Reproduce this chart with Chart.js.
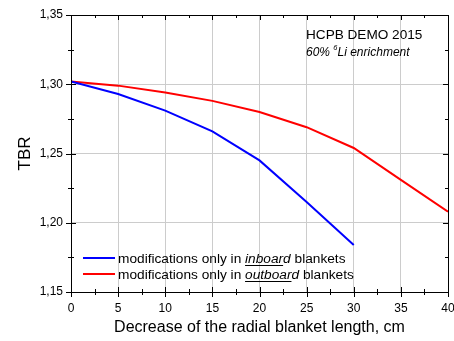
<!DOCTYPE html>
<html><head><meta charset="utf-8">
<script src="https://cdn.jsdelivr.net/npm/chart.js@4.4.1/dist/chart.umd.min.js"></script>
<style>html,body{margin:0;padding:0;background:#fff}#wrap{width:454px;height:341px}</style>
</head><body><div id="wrap"><canvas id="c" width="454" height="341"></canvas></div>
<script>
const xValues = [0, 5, 10, 15, 20, 25, 30, 35, 40];
const inboardTBR = [1.302, 1.293, 1.281, 1.266, 1.245, 1.215, 1.184];
const outboardTBR = [1.302, 1.299, 1.294, 1.288, 1.280, 1.269, 1.254, 1.231, 1.208];
const seriesNames = [["modifications only in ", "inboard", " blankets"], ["modifications only in ", "outboard", " blankets"]];
const titleText = "HCPB DEMO 2015";
const subText = ["60% ", "6", "Li enrichment"];
const FONT = "'Liberation Sans', Arial, sans-serif";

const decor = {
  id: 'decor',
  afterDraw(chart) {
    const ctx = chart.ctx, a = chart.chartArea, xs = chart.scales.x, ys = chart.scales.y;
    ctx.save();
    ctx.strokeStyle = '#000'; ctx.lineWidth = 1;
    ctx.strokeRect(Math.round(a.left) + 0.5, Math.round(a.top) + 0.5, Math.round(a.right - a.left), Math.round(a.bottom - a.top));
    ctx.beginPath();
    for (let v = 0; v <= 40; v += 2.5) {
      const x = Math.round(xs.getPixelForValue(v)) + 0.5;
      const major = v % 5 === 0;
      const L = major ? 5 : 3;
      ctx.moveTo(x, a.bottom - L); ctx.lineTo(x, a.bottom + L);
      ctx.moveTo(x, a.top); ctx.lineTo(x, a.top + L);
    }
    for (let i = 0; i <= 8; i++) {
      const v = 1.15 + i * 0.025;
      const y = Math.round(ys.getPixelForValue(v)) + 0.5;
      const major = i % 2 === 0;
      const L = major ? 5 : 3;
      ctx.moveTo(a.left - L, y); ctx.lineTo(a.left + L, y);
      ctx.moveTo(a.right - L, y); ctx.lineTo(a.right, y);
    }
    ctx.stroke();

    // annotation
    ctx.fillStyle = '#000';
    ctx.textBaseline = 'alphabetic';
    ctx.font = `13.6px ${FONT}`;
    ctx.fillText(titleText, 306, 39);
    ctx.font = `italic 12px ${FONT}`;
    let x = 306;
    ctx.fillText(subText[0], x, 56); x += ctx.measureText(subText[0]).width;
    ctx.font = `italic 7.5px ${FONT}`;
    ctx.fillText(subText[1], x, 50); x += ctx.measureText(subText[1]).width;
    ctx.font = `italic 12px ${FONT}`;
    ctx.fillText(subText[2], x, 56);

    // legend
    const colors = ['#0000ff', '#ff0000'];
    const ys0 = [258, 274];
    for (let i = 0; i < 2; i++) {
      const y = ys0[i];
      ctx.strokeStyle = colors[i]; ctx.lineWidth = 2;
      ctx.beginPath(); ctx.moveTo(83, y); ctx.lineTo(115, y); ctx.stroke();
      let tx = 118;
      ctx.fillStyle = '#000';
      ctx.font = `13.7px ${FONT}`;
      ctx.fillText(seriesNames[i][0], tx, y + 5); tx += ctx.measureText(seriesNames[i][0]).width;
      ctx.font = `italic 13.7px ${FONT}`;
      const w = ctx.measureText(seriesNames[i][1]).width;
      const wu = ctx.measureText(seriesNames[i][1].slice(0, -1)).width;
      ctx.fillText(seriesNames[i][1], tx, y + 5);
      ctx.strokeStyle = '#000'; ctx.lineWidth = 1;
      ctx.beginPath(); ctx.moveTo(tx, y + 7.5); ctx.lineTo(tx + wu, y + 7.5); ctx.stroke();
      tx += w;
      ctx.font = `13.7px ${FONT}`;
      ctx.fillText(seriesNames[i][2], tx, y + 5);
    }
    ctx.restore();
  }
};

new Chart(document.getElementById('c'), {
  type: 'line',
  data: {
    datasets: [
      { data: inboardTBR.map((v, i) => ({ x: xValues[i], y: v })), borderColor: '#0000ff', borderWidth: 2, pointRadius: 0, tension: 0 },
      { data: outboardTBR.map((v, i) => ({ x: xValues[i], y: v })), borderColor: '#ff0000', borderWidth: 2, pointRadius: 0, tension: 0 }
    ]
  },
  options: {
    responsive: false, animation: false, devicePixelRatio: 1,
    layout: { padding: { top: 15, right: 6, left: 0, bottom: 0 } },
    plugins: { legend: { display: false }, tooltip: { enabled: false } },
    scales: {
      x: {
        type: 'linear', min: 0, max: 40,
        afterFit: s => { s.height = 49; s.paddingLeft = 0; s.paddingRight = 0; },
        ticks: { stepSize: 5, color: '#000', font: { family: FONT, size: 12 }, padding: 9, maxRotation: 0 },
        grid: { color: '#cccccc', drawTicks: false },
        border: { display: false },
        title: { display: true, text: 'Decrease of the radial blanket length, cm', color: '#000', font: { family: FONT, size: 16 }, padding: { top: 3 } }
      },
      y: {
        type: 'linear', min: 1.15, max: 1.35,
        afterFit: s => { s.width = 71; s.paddingTop = 0; s.paddingBottom = 0; },
        ticks: { stepSize: 0.05, color: '#000', font: { family: FONT, size: 12 }, padding: 8,
          callback: v => v.toFixed(2).replace('.', ',') },
        grid: { color: '#cccccc', drawTicks: false },
        border: { display: false },
        title: { display: true, text: 'TBR', color: '#000', font: { family: FONT, size: 17 }, padding: { top: 15, bottom: 4 } }
      }
    }
  },
  plugins: [decor]
});
</script></body></html>
